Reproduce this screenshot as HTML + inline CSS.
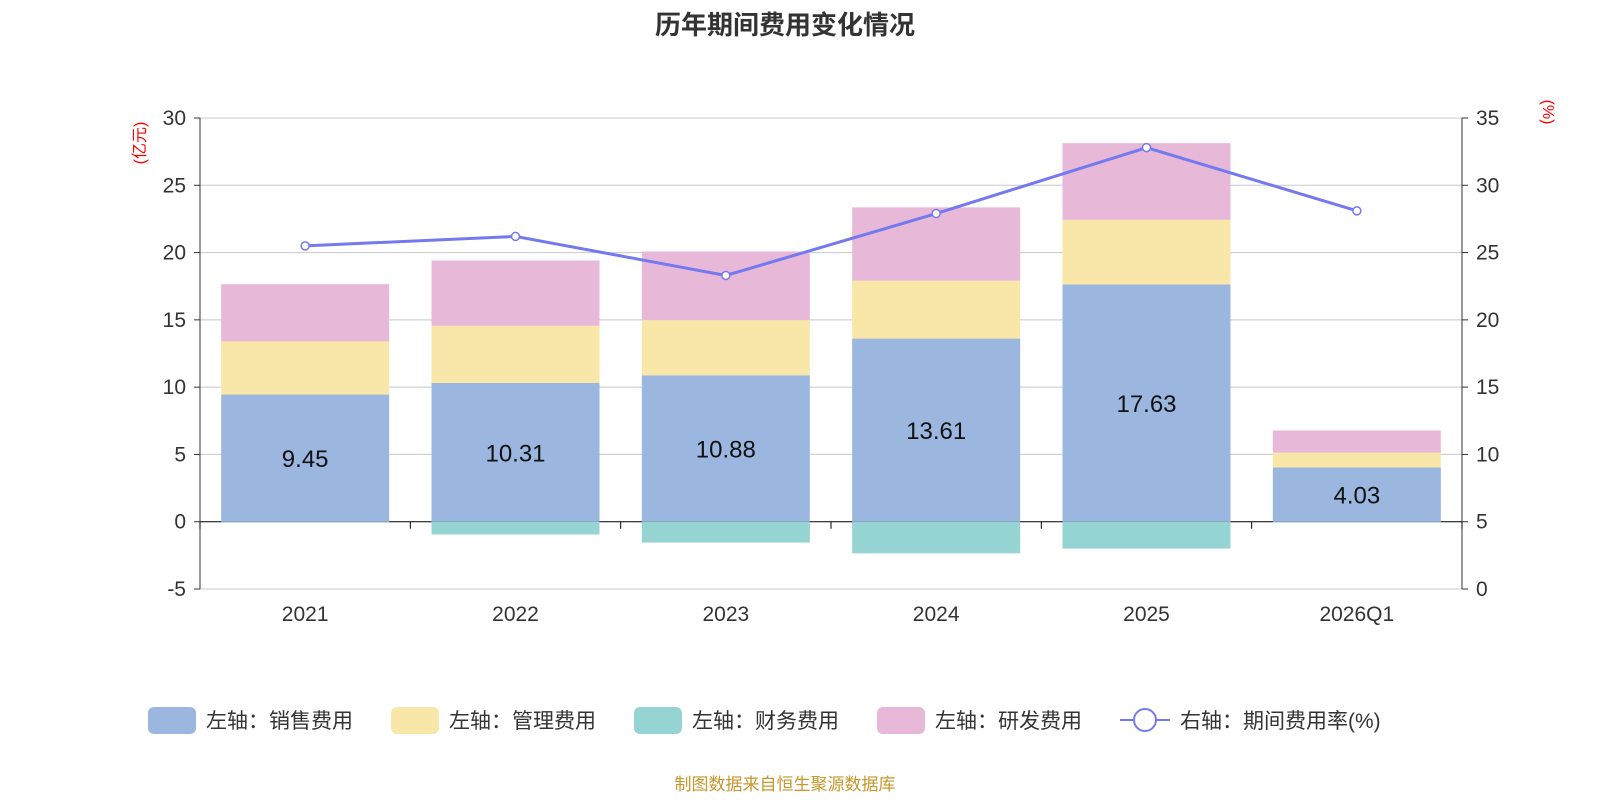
<!DOCTYPE html>
<html><head><meta charset="utf-8">
<style>
body{margin:0;background:#fff;font-family:"Liberation Sans","Noto Sans CJK SC",sans-serif;}
svg text{font-family:"Liberation Sans","Noto Sans CJK SC",sans-serif;}
</style></head>
<body>
<svg id="chart" width="1600" height="800">
<text x="785" y="34" text-anchor="middle" font-size="26" font-weight="bold" fill="#333">历年期间费用变化情况</text>
<text transform="translate(145,143) rotate(-90)" text-anchor="middle" font-size="16" fill="red">(亿元)</text>
<text transform="translate(1543,112) rotate(90)" text-anchor="middle" font-size="16" fill="red">(%)</text>
<g id="grid"></g><g id="bars"></g><g id="axes"></g><g id="line"></g>
<g id="legend"></g>
<text x="785" y="790" text-anchor="middle" font-size="17" fill="#c8962a">制图数据来自恒生聚源数据库</text>
</svg>
<script>
const categories=["2021","2022","2023","2024","2025","2026Q1"];
const sales=[9.45,10.31,10.88,13.61,17.63,4.03];
const admin=[3.95,4.25,4.1,4.3,4.8,1.1];
const finance=[-0.05,-0.95,-1.55,-2.35,-2.0,-0.05];
const rnd=[4.25,4.85,5.1,5.45,5.7,1.65];
const rate=[25.5,26.2,23.3,27.9,32.8,28.1];
const leftTicks=[-5,0,5,10,15,20,25,30];
const rightTicks=[0,5,10,15,20,25,30,35];
const NS="http://www.w3.org/2000/svg";
const X0=200,X1=1462,YT=118,YB=589;
const yL=v=>YT+(30-v)*(YB-YT)/35;
const yR=v=>YB-v*(YB-YT)/35;
const band=(X1-X0)/categories.length;
const xc=i=>X0+band*(i+0.5);
const bw=168;
function mk(tag,attrs,parent,txt){const e=document.createElementNS(NS,tag);for(const k in attrs)e.setAttribute(k,attrs[k]);if(txt!==undefined)e.textContent=txt;document.getElementById(parent).appendChild(e);return e;}
leftTicks.forEach((t,i)=>{
 const g=mk('line',{x1:X0,x2:X1,y1:yL(t),y2:yL(t),stroke:t===0?'#000':'#c8c8c8','stroke-width':1},'grid');
 
 
 const l=mk('text',{x:X0-14,y:yL(t)+7,'text-anchor':'end','font-size':21,fill:'#333'},'axes',String(t));
 
 
 mk('line',{x1:X0-6,x2:X0,y1:yL(t),y2:yL(t),stroke:'#333'},'axes');
});
rightTicks.forEach(t=>{
 const l=mk('text',{x:X1+14,y:yR(t)+7,'font-size':21,fill:'#333'},'axes',String(t));
 
 
 mk('line',{x1:X1,x2:X1+6,y1:yR(t),y2:yR(t),stroke:'#333'},'axes');
});
mk('line',{x1:X0,x2:X0,y1:YT,y2:YB,stroke:'#333'},'axes');
mk('line',{x1:X1,x2:X1,y1:YT,y2:YB,stroke:'#333'},'axes');
for(let i=0;i<=categories.length;i++)mk('line',{x1:X0+band*i,x2:X0+band*i,y1:yL(0),y2:yL(0)+7,stroke:'#000'},'axes');
const colors={sales:'#9bb7e0',admin:'#f8e7a8',finance:'#96d3d3',rnd:'#e7b8d8'};
categories.forEach((c,i)=>{
 const x=xc(i)-bw/2;
 const segs=[['sales',0,sales[i]],['admin',sales[i],sales[i]+admin[i]],['rnd',sales[i]+admin[i],sales[i]+admin[i]+rnd[i]]];
 segs.forEach(s=>{const r=mk('rect',{x:x,y:yL(s[2]),width:bw,height:yL(s[1])-yL(s[2]),fill:colors[s[0]]},'bars');
  
  });
 const f=mk('rect',{x:x,y:yL(0),width:bw,height:yL(finance[i])-yL(0),fill:colors.finance},'bars');
 
 
 const v=mk('text',{x:xc(i),y:yL(sales[i]/2)+9,'text-anchor':'middle','font-size':24,fill:'#111'},'bars',sales[i].toFixed(2));
 
 
 const cl=mk('text',{x:xc(i),y:621,'text-anchor':'middle','font-size':21,fill:'#333'},'axes',c);
 
 
});
const pts=rate.map((r,i)=>xc(i)+','+yR(r)).join(' ');
const pl=mk('polyline',{points:pts,fill:'none',stroke:'#7479f0','stroke-width':3},'line');


rate.forEach((r,i)=>{const p=mk('circle',{cx:xc(i),cy:yR(r),r:4,fill:'#fff',stroke:'#7479f0','stroke-width':1.5},'line');
 
 });
const leg=[['左轴：销售费用',colors.sales,148],['左轴：管理费用',colors.admin,391],['左轴：财务费用',colors.finance,634],['左轴：研发费用',colors.rnd,877]];
leg.forEach(l=>{mk('rect',{x:l[2],y:707,width:48,height:27,rx:6,fill:l[1]},'legend');
 const t=mk('text',{x:l[2]+58,y:728,'font-size':21,fill:'#333'},'legend',l[0]);
 
 });
mk('line',{x1:1120,x2:1170,y1:720,y2:720,stroke:'#7479f0','stroke-width':2},'legend');
mk('circle',{cx:1145,cy:720,r:11,fill:'#fff',stroke:'#7479f0','stroke-width':2},'legend');
const lt=mk('text',{x:1180,y:728,'font-size':21,fill:'#333'},'legend','右轴：期间费用率(%)');


</script>
</body></html>
